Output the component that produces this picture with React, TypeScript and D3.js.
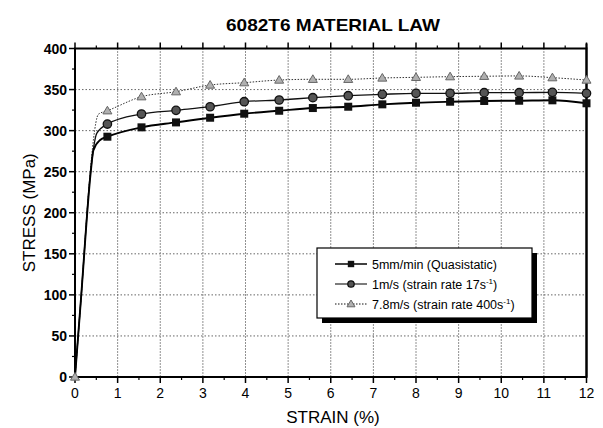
import React from 'react';
import * as d3 from 'd3';

// strain (%) at which the markers sit, shared by the three tests
const markerStrain = [0.76, 1.56, 2.37, 3.17, 3.97, 4.79, 5.58, 6.41, 7.21, 8.0, 8.8, 9.6, 10.42, 11.2, 12.0];

// stress (MPa) at each marker
const quasiStress = [292.6, 304, 310, 315.7, 320.6, 324.2, 327.5, 329.1, 332, 334, 335.2, 336.1, 336.4, 336.9, 333.3];
const midStress = [308, 320.2, 324.7, 329.1, 335.2, 337.3, 340.1, 342.5, 344.2, 345.4, 345.4, 346.2, 346.2, 346.6, 345.4];
const fastStress = [324.2, 341.3, 347.4, 355.5, 358.4, 361.6, 362.5, 362.5, 364.1, 364.9, 365.7, 366.2, 366.6, 364.5, 361.6];

// elastic part + yield knee before the first marker
const quasiKneeStrain = [0, 0.14, 0.37, 0.43, 0.59];
const quasiKneeStress = [0, 95, 250, 276, 288.6];
const midKneeStrain = [0, 0.14, 0.37, 0.51];
const midKneeStress = [0, 95, 252, 296.7];
const fastKneeStrain = [0, 0.14, 0.35, 0.43, 0.55];
const fastKneeStress = [0, 95, 245, 288, 320];

const xTicks = [0, 1, 2, 3, 4, 5, 6, 7, 8, 9, 10, 11, 12];
const yTicks = [0, 50, 100, 150, 200, 250, 300, 350, 400];

const W = 603;
const H = 428;
const margin = { top: 48.5, right: 16.5, bottom: 51, left: 75 };

const FONT = 'Liberation Sans, Arial, sans-serif';

type Pt = [number, number];

const zip = (xs: number[], ys: number[]): Pt[] => xs.map((x, i) => [x, ys[i]]);

const App = () => {
  const x = d3.scaleLinear().domain([0, 12]).range([margin.left, W - margin.right]);
  const y = d3.scaleLinear().domain([0, 400]).range([H - margin.bottom, margin.top]);

  const line = d3.line<Pt>()
    .x(d => x(d[0]))
    .y(d => y(d[1]))
    .curve(d3.curveMonotoneX);

  const quasiPts = zip(markerStrain, quasiStress);
  const midPts = zip(markerStrain, midStress);
  const fastPts = zip(markerStrain, fastStress);

  const quasiCurve = zip(quasiKneeStrain, quasiKneeStress).concat(quasiPts);
  const midCurve = zip(midKneeStrain, midKneeStress).concat(midPts);
  const fastCurve = zip(fastKneeStrain, fastKneeStress).concat(fastPts);

  const x0 = x(0), x1 = x(12), y0 = y(0), y1 = y(400);
  const minorX = d3.range(0.5, 12, 1);
  const minorY = d3.range(25, 400, 50);

  const square = (cx: number, cy: number, key: string, s = 4) => (
    <rect key={key} x={cx - s} y={cy - s} width={2 * s} height={2 * s} fill="#111" />
  );
  const circle = (cx: number, cy: number, key: string, r = 4.2) => (
    <circle key={key} cx={cx} cy={cy} r={r} fill="#555" stroke="#111" strokeWidth={1.3} />
  );
  const triangle = (cx: number, cy: number, key: string, s = 4.5) => (
    <path key={key} d={`M${cx},${cy - s}L${cx + s},${cy + s * 0.7}L${cx - s},${cy + s * 0.7}Z`}
      fill="#b0b0b0" stroke="#666" strokeWidth={1} />
  );

  // legend geometry
  const lg = { x: 317, y: 248, w: 215, h: 70 };
  const rows = [
    { label: '5mm/min (Quasistatic)', sup: '', mark: square, dash: '', sw: 1.6, ms: 3.2 },
    { label: '1m/s (strain rate 17s', sup: '-1', mark: circle, dash: '', sw: 1.1, ms: 3.2 },
    { label: '7.8m/s (strain rate 400s', sup: '-1', mark: triangle, dash: '1.5,1.5', sw: 1, ms: 4 },
  ];

  return (
    <svg width={W} height={H} style={{ position: 'absolute', left: 0, top: 0, background: '#fff' }}
      fontFamily={FONT}>
      <rect width={W} height={H} fill="#fff" />

      <text x={333} y={31} textAnchor="middle" fontSize={17} fontWeight="bold" textLength={214}
        lengthAdjust="spacingAndGlyphs">6082T6 MATERIAL LAW</text>

      {/* grid */}
      {xTicks.slice(1, -1).map(t => (
        <line key={'gx' + t} x1={x(t)} x2={x(t)} y1={y1} y2={y0} stroke="#222" strokeWidth={1}
          strokeDasharray="1,2" />
      ))}
      {yTicks.slice(1, -1).map(t => (
        <line key={'gy' + t} x1={x0} x2={x1} y1={y(t)} y2={y(t)} stroke="#666" strokeWidth={1}
          strokeDasharray="1.5,2" />
      ))}

      {/* curves */}
      <path d={line(fastCurve) || ''} fill="none" stroke="#333" strokeWidth={1} strokeDasharray="1.5,1.5" />
      <path d={line(midCurve) || ''} fill="none" stroke="#111" strokeWidth={1.3} />
      <path d={line(quasiCurve) || ''} fill="none" stroke="#000" strokeWidth={1.9} />

      {/* frame */}
      <rect x={x0} y={y1} width={x1 - x0} height={y0 - y1} fill="none" stroke="#000" strokeWidth={2} />
      <line x1={x1} x2={x1} y1={y1 - 5} y2={y0} stroke="#000" strokeWidth={2} />

      {/* ticks */}
      {xTicks.map(t => (
        <g key={'tx' + t}>
          <line x1={x(t)} x2={x(t)} y1={y0} y2={y0 + 6} stroke="#000" strokeWidth={1.5} />
          <line x1={x(t)} x2={x(t)} y1={y1} y2={y1 - 6} stroke="#000" strokeWidth={1.5} />
          <text x={x(t)} y={y0 + 21} textAnchor="middle" fontSize={14}>{t}</text>
        </g>
      ))}
      {minorX.map(t => (
        <g key={'mx' + t}>
          <line x1={x(t)} x2={x(t)} y1={y0} y2={y0 + 3} stroke="#000" strokeWidth={1.2} />
          <line x1={x(t)} x2={x(t)} y1={y1} y2={y1 - 3} stroke="#000" strokeWidth={1.2} />
        </g>
      ))}
      {yTicks.map(t => (
        <g key={'ty' + t}>
          <line x1={x0 - 6} x2={x0} y1={y(t)} y2={y(t)} stroke="#000" strokeWidth={1.5} />
          <text x={x0 - 8} y={y(t) + 5} textAnchor="end" fontSize={14} fontWeight="bold">{t}</text>
        </g>
      ))}
      {minorY.map(t => (
        <line key={'my' + t} x1={x0 - 3} x2={x0} y1={y(t)} y2={y(t)} stroke="#000" strokeWidth={1.2} />
      ))}

      {/* markers */}
      {fastPts.map((d, i) => triangle(x(d[0]), y(d[1]), 'ft' + i))}
      {midPts.map((d, i) => circle(x(d[0]), y(d[1]), 'md' + i))}
      {quasiPts.map((d, i) => square(x(d[0]), y(d[1]), 'qs' + i))}
      {triangle(x(0), y(0), 'origin')}

      {/* axis titles */}
      <text x={333} y={423} textAnchor="middle" fontSize={17}>STRAIN (%)</text>
      <text transform={`translate(35,${(y0 + y1) / 2}) rotate(-90)`} textAnchor="middle" fontSize={17}>
        STRESS (MPa)
      </text>

      {/* legend */}
      <rect x={lg.x + 5} y={lg.y + 5} width={lg.w} height={lg.h} fill="#000" />
      <rect x={lg.x} y={lg.y} width={lg.w} height={lg.h} fill="#fff" stroke="#000" strokeWidth={1.2} />
      {rows.map((r, i) => {
        const ry = lg.y + 16 + i * 20;
        return (
          <g key={'lg' + i}>
            <line x1={lg.x + 18} x2={lg.x + 50} y1={ry} y2={ry} stroke="#111" strokeWidth={r.sw}
              strokeDasharray={r.dash || undefined} />
            {r.mark(lg.x + 34, ry, 'lm' + i, r.ms)}
            <text x={lg.x + 55} y={ry + 4.5} fontSize={12.5}>
              {r.label}
              {r.sup && <tspan dy={-5} fontSize={8}>{r.sup}</tspan>}
              {r.sup && <tspan dy={5}>)</tspan>}
            </text>
          </g>
        );
      })}
    </svg>
  );
};

export default App;
